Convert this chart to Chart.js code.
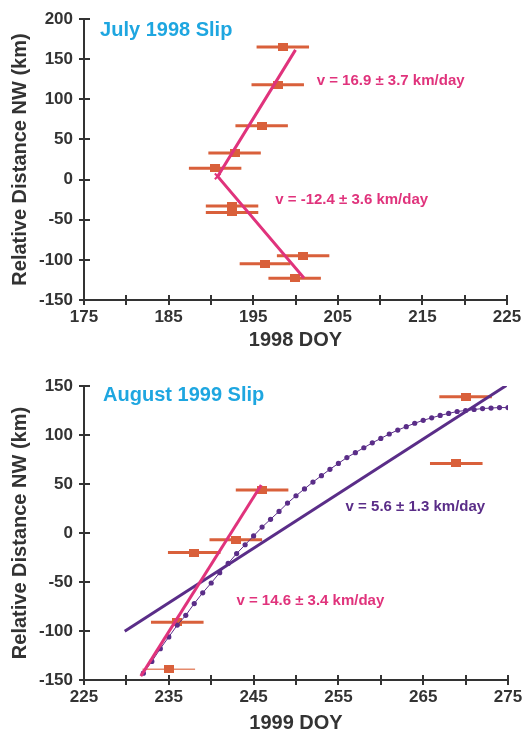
<!DOCTYPE html>
<html>
<head>
<meta charset="utf-8">
<script src="https://cdn.jsdelivr.net/npm/chart.js@4.4.0/dist/chart.umd.min.js"></script>
<style>
html, body { margin: 0; padding: 0; background: #fff; }
canvas { position: absolute; left: 0; }
#july { top: 0; }
#aug { top: 350px; }
</style>
</head>
<body>
<canvas id="july" width="529" height="350"></canvas>
<canvas id="aug" width="529" height="383"></canvas>
<script>
// July 1998 slip: observations (day of year, distance NW in km, half-width of error bar in days)
const julyDay = [198.5, 197.9, 196.0, 192.8, 190.5, 192.5, 192.5, 200.9, 196.4, 199.9];
const julyDist = [165, 118, 67, 33, 14, -33, -41, -95, -105, -123];
const julyErr = [3.1, 3.1, 3.1, 3.1, 3.1, 3.1, 3.1, 3.1, 3.0, 3.1];
// two-segment fit (NW branch / SE branch)
const julyFitDay = [200.0, 190.8, 201.0];
const julyFitDist = [161.5, 4, -122.5];

// August 1999 slip
const augDay = [270.0, 268.9, 246.0, 242.9, 238.0, 236.0, 235.0];
const augDist = [139, 71, 44, -7, -20, -91, -139];
const augErr = [3.1, 3.1, 3.1, 3.1, 3.1, 3.1, 3.1];
const augFastDay = [231.7, 245.9];
const augFastDist = [-146, 49];
const augSlowDay = [229.8, 274.8];
const augSlowDist = [-100.3, 150.5];
const augCurveDay = [232, 233, 234, 235, 236, 237, 238, 239, 240, 241, 242, 243, 244, 245, 246, 247,
  248, 249, 250, 251, 252, 253, 254, 255, 256, 257, 258, 259, 260, 261, 262, 263, 264, 265, 266,
  267, 268, 269, 270, 271, 272, 273, 274, 275];
const augCurveDist = [-143, -131, -118, -106, -94, -84, -72, -61, -51, -40.5, -31, -21, -12, -3, 6, 14,
  22, 30.5, 38, 45, 52, 58.5, 65, 71, 77, 82, 87, 92, 96.5, 101, 105, 108.5, 112, 115, 117.5,
  120, 122, 124, 125, 126, 127, 127.5, 128, 128];

const julyTicksY = [-150, 200];
const augTicksY = [-150, 150];

const ink = "#333333";
const orange = "#d9603b";
const pink = "#e0337c";
const purple = "#5a2d88";
const cyan = "#1ea6e0";

Chart.defaults.font.family = "'Liberation Sans', Arial, sans-serif";
Chart.defaults.font.weight = "bold";

function marker() {
  const c = document.createElement("canvas");
  c.width = 10; c.height = 8;
  const g = c.getContext("2d");
  g.fillStyle = orange;
  g.fillRect(0, 0, 10, 8);
  return c;
}
const box = marker();

const pts = (xs, ys) => xs.map((v, i) => ({ x: v, y: ys[i] }));

function errorBars(xs, ys, es) {
  const out = [];
  xs.forEach((v, i) => {
    out.push({ x: v - es[i], y: ys[i] }, { x: v + es[i], y: ys[i] }, { x: v, y: null });
  });
  return out;
}

const extras = {
  id: "extras",
  afterDraw(chart, args, opts) {
    const { ctx, chartArea: a, scales: { x, y } } = chart;
    ctx.save();
    ctx.strokeStyle = ink;
    ctx.lineWidth = 2;
    ctx.beginPath();
    x.ticks.forEach(t => {
      const px = Math.round(x.getPixelForValue(t.value));
      ctx.moveTo(px, a.bottom);
      ctx.lineTo(px, a.bottom - 5);
    });
    y.ticks.forEach(t => {
      const py = Math.round(y.getPixelForValue(t.value));
      ctx.moveTo(a.left, py);
      ctx.lineTo(a.left + 6, py);
    });
    ctx.stroke();
    ctx.textAlign = "left";
    ctx.textBaseline = "middle";
    (opts.notes || []).forEach(n => {
      ctx.font = "bold " + n.size + "px 'Liberation Sans', Arial, sans-serif";
      ctx.fillStyle = n.color;
      ctx.fillText(n.text, x.getPixelForValue(n.x), y.getPixelForValue(n.y));
    });
    ctx.restore();
  }
};

function axes(xMin, xMax, yRange, xTitle, xHeight) {
  const grid = { drawOnChartArea: false, drawTicks: true, tickLength: 5, color: ink, lineWidth: 2 };
  const border = { color: ink, width: 2 };
  return {
    x: {
      type: "linear", min: xMin, max: xMax,
      afterFit: s => { s.height = xHeight; },
      grid, border,
      ticks: {
        stepSize: 5, autoSkip: false, maxRotation: 0, padding: 2, color: ink,
        font: { size: 17, weight: "bold" },
        callback: v => ((v - xMin) % 10 === 0 ? v : "")
      },
      title: { display: true, text: xTitle, color: ink, font: { size: 20, weight: "bold", lineHeight: 1 }, padding: { top: 0, bottom: 0 } }
    },
    y: {
      type: "linear", min: yRange[0], max: yRange[1],
      afterFit: s => { s.width = 84; },
      grid, border,
      ticks: { stepSize: 50, padding: 6, color: ink, font: { size: 17, weight: "bold" } },
      title: { display: true, text: "Relative Distance NW (km)", color: ink, font: { size: 20, weight: "bold", lineHeight: 1 }, padding: { top: 10, bottom: 0 } }
    }
  };
}

new Chart(document.getElementById("july"), {
  type: "scatter",
  data: {
    datasets: [
      {
        label: "fit", data: pts(julyFitDay, julyFitDist), showLine: true,
        borderColor: pink, borderWidth: 3, pointRadius: 0, order: 0
      },
      {
        label: "vertex", data: [{ x: julyFitDay[1], y: julyFitDist[1] }],
        pointStyle: "crossRot", pointRadius: 4, borderColor: pink, borderWidth: 2, order: 0
      },
      {
        label: "obs", data: pts(julyDay, julyDist), pointStyle: box, order: 1
      },
      {
        label: "err", data: errorBars(julyDay, julyDist, julyErr), showLine: true, spanGaps: false,
        borderColor: orange, borderWidth: 3, pointRadius: 0, order: 2
      }
    ]
  },
  options: {
    responsive: false,
    animation: false,
    layout: { padding: { top: 19, right: 22, left: 0, bottom: 0 } },
    plugins: {
      legend: { display: false },
      tooltip: { enabled: false },
      extras: {
        notes: [
          { text: "July 1998 Slip", x: 176.9, y: 186, color: cyan, size: 20 },
          { text: "v = 16.9 \u00b1 3.7 km/day", x: 202.5, y: 122.8, color: pink, size: 15 },
          { text: "v = -12.4 \u00b1 3.6 km/day", x: 197.6, y: -25.4, color: pink, size: 15 }
        ]
      }
    },
    scales: axes(175, 225, julyTicksY, "1998 DOY", 50)
  },
  plugins: [extras]
});

const thinErr = (augDay.length - 1) * 3;

new Chart(document.getElementById("aug"), {
  type: "scatter",
  data: {
    datasets: [
      {
        label: "fast", data: pts(augFastDay, augFastDist), showLine: true,
        borderColor: pink, borderWidth: 3, pointRadius: 0, order: 0
      },
      {
        label: "slow", data: pts(augSlowDay, augSlowDist), showLine: true,
        borderColor: purple, borderWidth: 3, pointRadius: 0, order: 1
      },
      {
        label: "model", data: pts(augCurveDay, augCurveDist), showLine: true,
        borderColor: purple, borderWidth: 1, pointRadius: 2.6,
        pointBackgroundColor: purple, pointBorderWidth: 0, order: 2
      },
      {
        label: "obs", data: pts(augDay, augDist), pointStyle: box, order: 3
      },
      {
        label: "err", data: errorBars(augDay, augDist, augErr), showLine: true, spanGaps: false,
        borderColor: orange, borderWidth: 3, pointRadius: 0, order: 4,
        segment: {
          borderWidth: c => (c.p0DataIndex === thinErr ? 1.5 : 3),
          borderColor: c => (c.p0DataIndex === thinErr ? "#e58a6c" : orange)
        }
      }
    ]
  },
  options: {
    responsive: false,
    animation: false,
    layout: { padding: { top: 36, right: 21, left: 0, bottom: 0 } },
    plugins: {
      legend: { display: false },
      tooltip: { enabled: false },
      extras: {
        notes: [
          { text: "August 1999 Slip", x: 227.25, y: 140, color: cyan, size: 20 },
          { text: "v = 5.6 \u00b1 1.3 km/day", x: 255.85, y: 26.8, color: purple, size: 15 },
          { text: "v = 14.6 \u00b1 3.4 km/day", x: 242.97, y: -69, color: pink, size: 15 }
        ]
      }
    },
    scales: axes(225, 275, augTicksY, "1999 DOY", 53)
  },
  plugins: [extras]
});
</script>
</body>
</html>
